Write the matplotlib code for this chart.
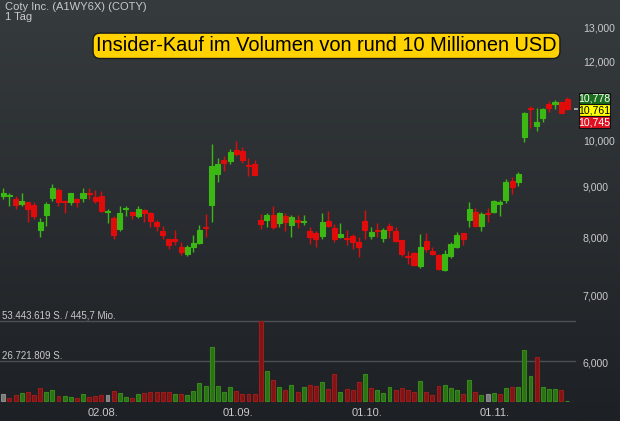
import numpy as np
import matplotlib
matplotlib.use("Agg")
import matplotlib.pyplot as plt
from matplotlib.patches import Rectangle
import matplotlib.transforms as mtransforms
from matplotlib.ticker import NullLocator

# ---------------- data ----------------
opens = [8.81, 8.80, 8.75, 8.65, 8.68, 8.63, 8.15, 8.43, 8.77, 8.94,
         8.70, 8.69, 8.75, 8.76, 8.86, 8.78, 8.81, 8.50, 8.38, 8.17,
         8.54, 8.50, 8.42, 8.53, 8.47, 8.30, 8.13, 7.98, 7.97, 7.83,
         7.71, 7.83, 7.91, 8.20, 8.63, 9.27, 9.57, 9.55, 9.80, 9.77,
         9.47, 9.49, 8.34, 8.34, 8.43, 8.28, 8.41, 8.24, 8.34, 8.29,
         8.13, 8.09, 8.03, 8.32, 8.18, 8.02, 8.00, 8.03, 7.93, 8.32,
         8.03, 8.15, 8.00, 8.22, 8.13, 7.96, 7.68, 7.73, 7.50, 7.94,
         7.76, 7.69, 7.43, 7.68, 7.84, 8.09, 8.34, 8.49, 8.23, 8.47,
         8.49, 8.64, 8.72, 9.12, 9.09, 10.09, 10.80, 10.34, 10.55, 10.89,
         10.89, 10.94, 11.01]
highs = [8.97, 8.87, 8.80, 8.87, 8.69, 8.68, 8.37, 8.68, 9.05, 8.97,
         8.73, 8.87, 8.76, 8.97, 8.97, 8.93, 8.92, 8.54, 8.41, 8.61,
         8.61, 8.50, 8.61, 8.54, 8.50, 8.34, 8.22, 7.98, 8.15, 7.93,
         7.87, 8.05, 8.24, 8.46, 9.93, 9.61, 9.65, 9.81, 10.01, 9.86,
         9.62, 9.56, 8.45, 8.47, 8.60, 8.50, 8.47, 8.43, 8.43, 8.43,
         8.21, 8.13, 8.47, 8.51, 8.25, 8.27, 8.15, 8.07, 8.01, 8.53,
         8.21, 8.27, 8.18, 8.27, 8.20, 7.96, 7.76, 7.75, 8.07, 8.08,
         7.84, 7.70, 7.78, 7.92, 8.11, 8.09, 8.68, 8.56, 8.49, 8.57,
         8.72, 8.72, 9.16, 9.21, 9.30, 10.68, 10.85, 10.78, 10.80, 10.97,
         10.99, 10.95, 11.06]
lows = [8.74, 8.60, 8.54, 8.61, 8.29, 8.35, 8.01, 8.23, 8.70, 8.60,
        8.48, 8.62, 8.58, 8.68, 8.74, 8.66, 8.49, 8.27, 7.98, 8.13,
        8.42, 8.35, 8.37, 8.29, 8.21, 8.13, 7.98, 7.79, 7.87, 7.69,
        7.67, 7.75, 7.89, 8.02, 8.30, 9.09, 9.33, 9.49, 9.66, 9.50,
        9.23, 9.25, 8.17, 8.20, 8.17, 8.21, 8.13, 8.02, 8.19, 8.24,
        7.88, 7.84, 7.98, 8.21, 7.93, 8.00, 7.86, 7.79, 7.66, 7.97,
        7.98, 8.02, 7.93, 7.99, 7.93, 7.67, 7.53, 7.49, 7.47, 7.75,
        7.69, 7.42, 7.41, 7.63, 7.82, 7.86, 8.21, 8.20, 8.13, 8.29,
        8.47, 8.42, 8.66, 8.85, 9.02, 9.97, 10.30, 10.24, 10.44, 10.70,
        10.76, 10.66, 10.74]
closes = [8.88, 8.82, 8.63, 8.71, 8.55, 8.42, 8.29, 8.65, 8.98, 8.68,
          8.69, 8.87, 8.68, 8.87, 8.85, 8.71, 8.51, 8.51, 8.05, 8.47,
          8.57, 8.44, 8.55, 8.48, 8.32, 8.22, 8.05, 7.87, 7.95, 7.75,
          7.83, 7.91, 8.15, 8.19, 9.43, 9.49, 9.51, 9.74, 9.71, 9.58,
          9.45, 9.25, 8.26, 8.43, 8.21, 8.47, 8.29, 8.40, 8.29, 8.32,
          8.02, 7.97, 8.30, 8.23, 7.98, 8.07, 7.98, 7.93, 7.84, 8.15,
          8.10, 8.13, 8.14, 8.15, 7.95, 7.70, 7.66, 7.52, 7.83, 7.80,
          7.70, 7.45, 7.71, 7.89, 8.05, 7.98, 8.55, 8.23, 8.45, 8.45,
          8.70, 8.68, 9.09, 8.99, 9.27, 10.67, 10.77, 10.45, 10.77, 10.79,
          10.94, 10.67, 10.761]
volumes_mio = [4.45, 2.23, 4.0, 5.12, 6.23, 4.0, 8.68, 5.79, 7.12, 3.56,
               3.56, 2.67, 2.23, 4.68, 2.45, 3.12, 4.23, 3.79, 6.9, 5.34,
               2.9, 2.23, 4.45, 5.34, 5.79, 5.79, 5.79, 6.23, 4.68, 4.68,
               3.79, 6.68, 11.8, 10.24, 35.85, 10.24, 5.79, 9.35, 6.46, 4.9,
               4.9, 4.9, 53.44, 20.26, 14.2, 9.6, 7.6, 10.5, 5.8, 9.2,
               10.6, 9.7, 12.6, 8.35, 18.3, 6.23, 8.0, 7.57, 12.47, 17.8,
               8.9, 7.13, 5.57, 9.57, 7.57, 8.68, 7.13, 5.79, 13.36, 5.79,
               4.23, 10.24, 10.47, 8.46, 7.57, 4.9, 14.25, 5.79, 4.3, 4.7,
               5.6, 5.0, 8.8, 9.2, 9.2, 34.4, 16.6, 29.6, 9.3, 7.7,
               7.9, 7.1, 0.0]

date_labels = ["02.08.", "01.09.", "01.10.", "01.11."]
date_positions = [16.23, 38.2, 59.33, 80.16]
price_ticks = [6, 7, 8, 9, 10, 12, 13]
price_tick_labels = ["6,000", "7,000", "8,000", "9,000", "10,000", "12,000", "13,000"]
quote_labels = ["10,778", "10,761", "10,745"]
vol_max_mio = 53.443619
vol_line_labels = ["53.443.619 S. / 445,7 Mio.", "26.721.809 S."]
header = "Coty Inc. (A1WY6X) (COTY)"
period = "1 Tag"
headline = "Insider-Kauf im Volumen von rund 10 Millionen USD"

# ---------------- style ----------------
W, H = 620, 421
plt.rcParams['font.family'] = ['Liberation Sans', 'DejaVu Sans']
UP = '#3cb814'
DOWN = '#e00b0b'
TXT = '#c8cacc'

fig = plt.figure(figsize=(W / 100, H / 100), dpi=100)

def fx(x):
    return x / W

def fy(y):
    return 1 - y / H

# background gradient
bg = fig.add_axes([0, 0, 1, 1], zorder=-10)
grad = np.linspace(0, 1, 256)[:, None]
top = np.array([54, 59, 62]) / 255
bot = np.array([29, 32, 36]) / 255
img = top[None, None, :] * (1 - grad[:, :, None]) + bot[None, None, :] * grad[:, :, None]
bg.imshow(img, aspect='auto', extent=[0, 1, 0, 1])
bg.set_axis_off()

n = len(closes)
idx = np.arange(n)
ax_rect = [0, fy(402), fx(576), 402 / H]
xlim = ((0 - 3.3) / 6.13, (576 - 3.3) / 6.13)

# volume axes
axv = fig.add_axes(ax_rect)
axv.patch.set_alpha(0)
k = vol_max_mio / 80.0
axv.set_ylim(-1 * k, 401 * k)
axv.set_xlim(*xlim)
vcol_face, vcol_edge = [], []
for i in range(n):
    if i == 0 or np.isclose(closes[i], closes[i - 1]):
        vcol_face.append('#7a7a7a'); vcol_edge.append('#8c8c8c')
    elif closes[i] > closes[i - 1]:
        vcol_face.append('#2a7314'); vcol_edge.append('#37871c')
    else:
        vcol_face.append('#821414'); vcol_edge.append('#9a1c1c')
axv.bar(idx, volumes_mio, width=0.64, color=vcol_face, edgecolor=vcol_edge, linewidth=0.8)
for lvl in (vol_max_mio, vol_max_mio / 2):
    axv.axhline(lvl, color='#4b5054', lw=1.0, zorder=0)
axv.set_axis_off()

# price axes
ax = fig.add_axes(ax_rect, sharex=axv)
ax.patch.set_alpha(0)
ax.set_yscale('log')
ax.set_ylim(5.480, 13.838)
ax.set_xlim(*xlim)
o = np.array(opens); c = np.array(closes); hi = np.array(highs); lo = np.array(lows)
cols = [UP if c[i] >= o[i] else DOWN for i in range(n)]
ax.vlines(idx, lo, hi, colors=cols, linewidth=1.0)
bottoms = np.minimum(o, c)
heights = np.abs(c - o)
ax.bar(idx, heights, bottom=bottoms, width=0.82, color=cols, edgecolor=cols, linewidth=0.8)

for s in ax.spines.values():
    s.set_visible(False)
ax.yaxis.tick_right()
ax.yaxis.set_minor_locator(NullLocator())
ax.set_yticks(price_ticks)
ax.set_yticklabels(price_tick_labels)
ax.tick_params(axis='y', length=0, pad=5, labelsize=7.6, labelcolor=TXT)
ax.set_xticks(date_positions)
ax.set_xticklabels(date_labels)
ax.tick_params(axis='x', length=0, pad=4, labelsize=8, labelcolor=TXT)

# last price marker
trans = mtransforms.blended_transform_factory(fig.transFigure, ax.transData)
ax.add_patch(Rectangle((fx(574), c[-1] * 0.9985), fx(4), c[-1] * 0.003, transform=trans,
                       facecolor='#a0a4a8', edgecolor='none', clip_on=False))

# texts
fig.text(fx(5), fy(10), header, fontsize=8, color=TXT, va='baseline', ha='left')
fig.text(fx(5), fy(19.5), period, fontsize=8, color=TXT, va='baseline', ha='left')
fig.text(fx(2), fy(316), vol_line_labels[0], fontsize=7, color=TXT, va='center', ha='left')
fig.text(fx(2), fy(356), vol_line_labels[1], fontsize=7, color=TXT, va='center', ha='left')

fig.text(fx(326.5), fy(45.8), headline, fontsize=14.4, color='black', ha='center', va='center',
         bbox=dict(boxstyle='round,pad=0.16,rounding_size=0.35', facecolor='#ffd200',
                   edgecolor='#1a1a1a', linewidth=1.0))

# quote boxes
box_specs = [(92.7, '#1b6e1b', 'white'), (104.3, '#ffff00', 'black'), (116.0, '#df1020', 'white')]
for (ytop, fc, tc), lab in zip(box_specs, quote_labels):
    fig.patches.append(Rectangle((fx(578.5), fy(ytop + 11.7)), fx(31.5), 11.7 / H,
                                 transform=fig.transFigure, facecolor=fc,
                                 edgecolor='#111111', linewidth=0.8, zorder=5))
    fig.text(fx(594.3), fy(ytop + 6.0), lab, fontsize=7.6, color=tc, ha='center', va='center', zorder=6)

fig.savefig('out.png', dpi=100)
